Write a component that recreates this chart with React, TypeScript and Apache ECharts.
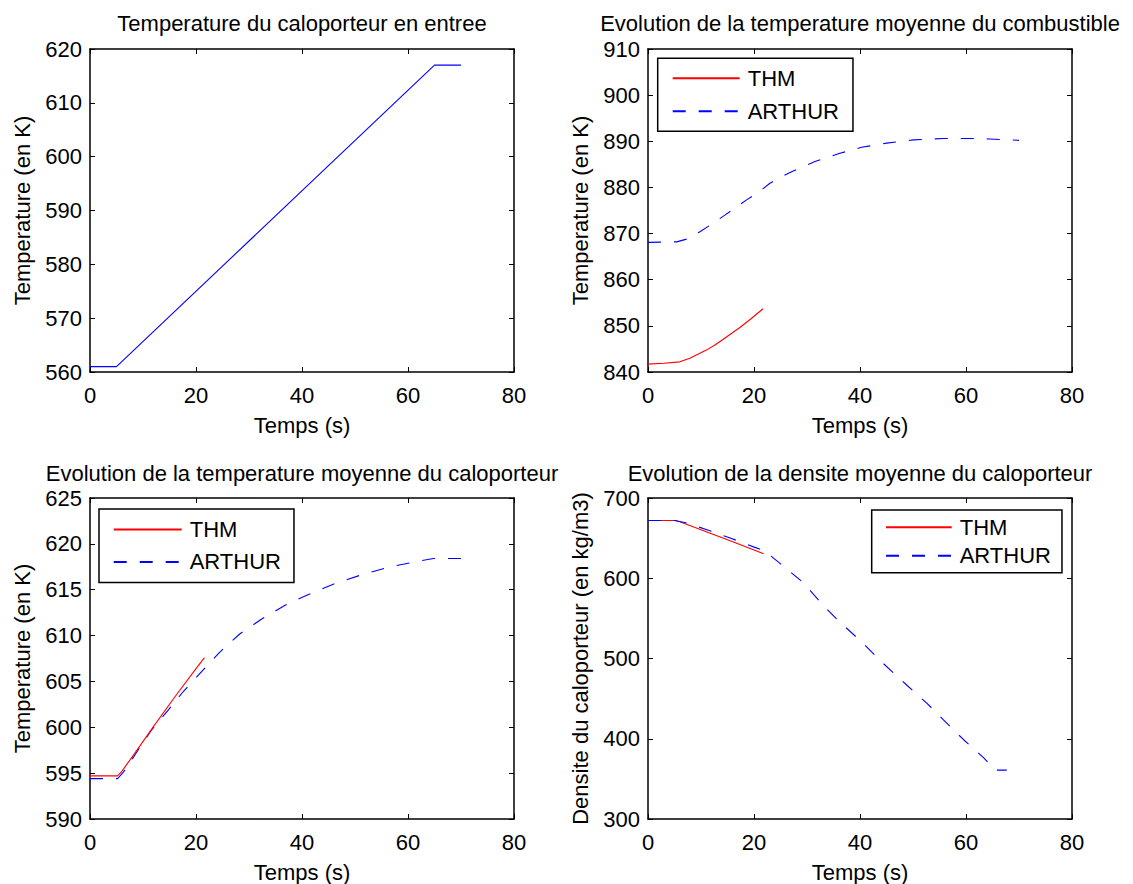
import React, { useEffect, useRef } from 'react';
import * as echarts from 'echarts';

const FONT = "'Liberation Sans', Arial, Helvetica, sans-serif";

// ---- text ----
const plotTitles = [
  'Temperature du caloporteur en entree',
  'Evolution de la temperature moyenne du combustible',
  'Evolution de la temperature moyenne du caloporteur',
  'Evolution de la densite moyenne du caloporteur',
];
const yNames = [
  'Temperature (en K)',
  'Temperature (en K)',
  'Temperature (en K)',
  'Densite du caloporteur (en kg/m3)',
];
const xName = 'Temps (s)';
const legendNames = ['THM', 'ARTHUR'];

// ---- axis ranges: [min, max, interval] ----
const xRange = [0, 80, 20];
const yRanges = [
  [560, 620, 10],
  [840, 910, 10],
  [590, 625, 5],
  [300, 700, 100],
];

// ---- data: [time (s), value] ----
const inletTemp = [
  [0, 561], [5, 561], [65, 617], [70, 617],
];

const fuelTHM = [
  [0, 841.7], [3, 841.9], [6, 842.2], [7.9, 843.0], [9.5, 843.9], [11.1, 844.8],
  [12.7, 845.9], [14.2, 847.1], [15.8, 848.4], [17.4, 849.7], [19.5, 851.6], [21.7, 853.7],
];
const fuelARTHUR = [
  [0, 868.1], [5.4, 868.2], [7.3, 868.8], [9.8, 870.4], [12.2, 872.2], [14.5, 874.0],
  [16.6, 875.7], [18.6, 877.3], [20.8, 878.9], [23.0, 880.9], [25.0, 882.2], [27.1, 883.4],
  [31.5, 885.6], [36.2, 887.4], [40.3, 888.7], [45.0, 889.6], [50.1, 890.3], [55.7, 890.6],
  [61.4, 890.6], [64.5, 890.5], [70.0, 890.2],
];

const coolTHM = [
  [0, 594.7], [5.2, 594.7], [6.0, 595.2], [8.0, 596.8], [12.0, 600.1], [16.0, 603.3],
  [20.0, 606.4], [21.6, 607.6],
];
const coolARTHUR = [
  [0, 594.4], [5.2, 594.4], [6.3, 595.1], [8.5, 597.0], [11.6, 599.7], [14.8, 601.9],
  [17.6, 603.9], [21.1, 606.1], [24.5, 608.2], [28.3, 610.2], [32.4, 611.8], [36.8, 613.3],
  [40.9, 614.4], [45.9, 615.6], [51.6, 616.7], [56.6, 617.5], [61.0, 618.0], [64.8, 618.4],
  [70.0, 618.4],
];

const densTHM = [
  [0, 672], [5.1, 672], [6.0, 670.5], [8.0, 665.5], [12.0, 655.5], [16.0, 645.5],
  [20.0, 635.3], [21.8, 630.5],
];
const densARTHUR = [
  [0, 672], [5.1, 672], [7.3, 668.8], [11.1, 660.5], [15.5, 650.2], [19.9, 639.1],
  [22.1, 633.7], [24.9, 618.5], [29.3, 594.7], [33.1, 565.8], [36.2, 545.3], [40.0, 522.6],
  [44.4, 493.8], [48.8, 467.0], [52.6, 444.4], [55.7, 423.8], [59.5, 399.1], [63.3, 376.5],
  [65.5, 360.9], [67.7, 360.9],
];

// ---- layout ----
const grids = [
  { left: 90, top: 49, width: 424, height: 323 },
  { left: 648, top: 49, width: 424, height: 323 },
  { left: 90, top: 498, width: 424, height: 324 },
  { left: 648, top: 498, width: 424, height: 324 },
];
const titleTops = [12, 12, 462, 462];

const RED = '#ff0000';
const BLUE = '#0000ff';
const DASH = [13, 13];

function buildOption() {
  const axisLine = { show: true, onZero: false, lineStyle: { color: '#000', width: 1.5 } };
  const axisTick = { show: true, inside: true, length: 5, lineStyle: { color: '#000', width: 1 } };
  const labelStyle = { color: '#000', fontSize: 22, fontFamily: FONT };

  const xAxis: any[] = [];
  const yAxis: any[] = [];
  grids.forEach((g, i) => {
    const [ymin, ymax, yint] = yRanges[i];
    xAxis.push({
      type: 'value', gridIndex: i, position: 'bottom', min: xRange[0], max: xRange[1], interval: xRange[2],
      axisLine, axisTick, splitLine: { show: false },
      axisLabel: { ...labelStyle, margin: 12 },
      name: xName, nameLocation: 'middle', nameGap: 42,
      nameTextStyle: { ...labelStyle },
    });
    xAxis.push({
      type: 'value', gridIndex: i, position: 'top', min: xRange[0], max: xRange[1], interval: xRange[2],
      axisLine, axisTick, splitLine: { show: false }, axisLabel: { show: false },
    });
    yAxis.push({
      type: 'value', gridIndex: i, position: 'left', min: ymin, max: ymax, interval: yint,
      axisLine, axisTick, splitLine: { show: false },
      axisLabel: { ...labelStyle, margin: 8 },
      name: yNames[i], nameLocation: 'middle', nameGap: 57,
      nameTextStyle: { ...labelStyle },
    });
    yAxis.push({
      type: 'value', gridIndex: i, position: 'right', min: ymin, max: ymax, interval: yint,
      axisLine, axisTick, splitLine: { show: false }, axisLabel: { show: false },
    });
  });

  const line = (name: string, data: number[][], grid: number, color: string, dashed: boolean, z: number) => ({
    type: 'line', name, data, xAxisIndex: grid * 2, yAxisIndex: grid * 2,
    symbol: 'none', showSymbol: false, silent: true, z,
    lineStyle: { color, width: 1.1, type: dashed ? DASH : 'solid' },
    itemStyle: { color },
  });

  const series = [
    line('Entree', inletTemp, 0, BLUE, false, 2),
    line(legendNames[0], fuelTHM, 1, RED, false, 2),
    line(legendNames[1], fuelARTHUR, 1, BLUE, true, 3),
    line(legendNames[0], coolTHM, 2, RED, false, 3),
    line(legendNames[1], coolARTHUR, 2, BLUE, true, 2),
    line(legendNames[0], densTHM, 3, RED, false, 2),
    line(legendNames[1], densARTHUR, 3, BLUE, true, 3),
  ];

  const legendBase = {
    orient: 'vertical', selectedMode: false, data: legendNames,
    borderColor: '#000', borderWidth: 1.5, backgroundColor: '#fff', borderRadius: 0,
    itemHeight: 12,
    itemStyle: { opacity: 0, borderWidth: 0 },
    textStyle: { color: '#000', fontSize: 22, fontFamily: FONT, padding: [0, 0, 0, 3] },
  };
  const legend = [
    { ...legendBase, left: 657.7, top: 58.3, itemWidth: 67, itemGap: 11, padding: [9, 14, 9, 14] },
    { ...legendBase, left: 99, top: 509, itemWidth: 68, itemGap: 10.4, padding: [9.5, 13, 9.5, 13.7] },
    { ...legendBase, left: 871.7, top: 510, itemWidth: 65.7, itemGap: 6.4, padding: [6.3, 11, 6, 13.3] },
  ];

  const title = plotTitles.map((t, i) => ({
    text: t,
    left: grids[i].left + grids[i].width / 2,
    top: titleTops[i],
    textAlign: 'center',
    padding: 0,
    textStyle: { color: '#000', fontSize: 22, fontWeight: 'normal', fontFamily: FONT },
  }));

  return {
    animation: false,
    backgroundColor: '#fff',
    textStyle: { fontFamily: FONT },
    title,
    legend,
    grid: grids.map((g) => ({ ...g, containLabel: false })),
    xAxis,
    yAxis,
    series,
  };
}

export default function App() {
  const ref = useRef<HTMLDivElement>(null);
  useEffect(() => {
    const chart = echarts.init(ref.current as HTMLDivElement, null, { renderer: 'svg' });
    chart.setOption(buildOption() as any);
    return () => chart.dispose();
  }, []);
  return (
    <div
      ref={ref}
      style={{ position: 'fixed', left: 0, top: 0, width: 1133, height: 884, background: '#fff' }}
    />
  );
}
